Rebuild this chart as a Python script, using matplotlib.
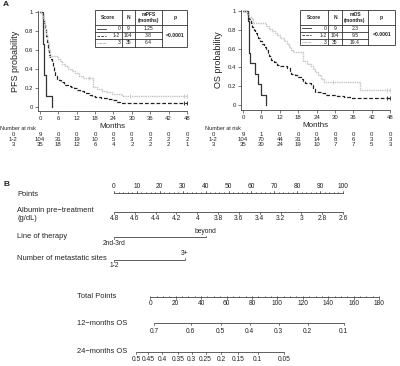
import numpy as np
import matplotlib.pyplot as plt
from matplotlib import transforms
from matplotlib.patches import Rectangle

plt.rcParams['font.family'] = ['Liberation Sans', 'DejaVu Sans']

# ---------------- data ----------------
months = [0, 6, 12, 18, 24, 30, 36, 42, 48]
groups = ['0', '1-2', '3']
n_pat = [9, 104, 35]
median_pfs = ['1.25', '3.8', '6.4']
median_os = ['2.3', '9.5', '19.4']
p_value = '<0.0001'

# PFS curves (time in months, survival)
pfs0_t = [0, 0.9, 1.0, 1.1, 1.15, 1.25, 1.3, 1.9, 2.0, 3.9]
pfs0_s = [1, 0.889, 0.778, 0.667, 0.556, 0.444, 0.333, 0.222, 0.111, 0]
pfs12_t = [0, 0.8, 1.1, 1.4, 1.7, 2.0, 2.3, 2.6, 3.0, 3.4, 3.8, 4.2, 4.6, 5.0, 5.6, 6.2,
           7.0, 8.0, 9.0, 10.0, 11.0, 12.0, 13.0, 14.5, 16.0, 17.0, 18.0, 20.0, 22.0,
           23.5, 25.0, 26.0, 48]
pfs12_s = [1, 0.97, 0.93, 0.88, 0.82, 0.75, 0.68, 0.6, 0.55, 0.51, 0.47, 0.42, 0.37, 0.33,
           0.30, 0.28, 0.26, 0.235, 0.22, 0.21, 0.195, 0.18, 0.165, 0.15, 0.13, 0.115,
           0.105, 0.095, 0.08, 0.07, 0.055, 0.042, 0.042]
pfs3_t = [0, 0.7, 1.0, 1.3, 1.6, 1.9, 2.2, 2.6, 3.0, 3.4, 5.8, 6.4, 7.2, 8.2, 9.3, 10.4,
          11.5, 12.6, 14.0, 17.4, 18.5, 20.1, 21.5, 23.4, 26.7, 48]
pfs3_s = [1, 0.97, 0.94, 0.89, 0.83, 0.77, 0.71, 0.66, 0.6, 0.54, 0.51, 0.48, 0.455, 0.43,
          0.405, 0.38, 0.355, 0.33, 0.305, 0.21, 0.185, 0.17, 0.155, 0.14, 0.115, 0.115]

# OS curves
os0_t = [0, 1.6, 1.8, 2.0, 2.1, 2.3, 3.8, 4.9, 6.0, 7.6]
os0_s = [1, 0.889, 0.778, 0.667, 0.556, 0.444, 0.333, 0.222, 0.111, 0]
os12_t = [0, 1.2, 1.6, 2.0, 2.5, 3.0, 3.5, 4.0, 4.5, 5.0, 5.6, 6.2, 6.8, 7.4, 8.0, 8.6,
          9.2, 10.0, 11.0, 12.0, 13.0, 14.5, 15.2, 15.8, 16.8, 17.8, 18.8, 19.5, 20.3,
          22.0, 22.7, 23.3, 25.5, 26.6, 30.5, 33.0, 35.3, 48]
os12_s = [1, 0.98, 0.95, 0.91, 0.87, 0.83, 0.80, 0.77, 0.74, 0.71, 0.68, 0.65, 0.62, 0.59,
          0.55, 0.52, 0.48, 0.455, 0.43, 0.42, 0.41, 0.39, 0.36, 0.335, 0.32, 0.30, 0.28,
          0.255, 0.23, 0.21, 0.17, 0.14, 0.125, 0.105, 0.095, 0.085, 0.075, 0.075]
os3_t = [0, 1.2, 2.0, 2.8, 3.2, 7.5, 8.6, 9.5, 10.4, 11.2, 12.0, 13.2, 14.2, 15.0, 15.8,
         16.4, 19.4, 21.0, 22.0, 22.8, 23.6, 24.5, 25.5, 26.4, 38.0, 48]
os3_s = [1, 0.97, 0.94, 0.91, 0.87, 0.84, 0.81, 0.79, 0.77, 0.74, 0.71, 0.68, 0.65, 0.62,
         0.59, 0.56, 0.47, 0.44, 0.41, 0.38, 0.35, 0.32, 0.28, 0.24, 0.155, 0.155]

# censoring marks (months)
pfs_cens = [[], [47, 48], [16.0, 29.5, 47, 48]]
os_cens = [[], [47, 48], [29.3, 47, 48]]

risk_pfs = [[9, 0, 0, 0, 0, 0, 0, 0, 0],
            [104, 31, 19, 10, 5, 3, 2, 2, 2],
            [35, 18, 12, 6, 4, 2, 2, 2, 1]]
risk_os = [[9, 1, 0, 0, 0, 0, 0, 0, 0],
           [104, 70, 44, 31, 14, 8, 6, 3, 3],
           [35, 30, 24, 19, 10, 7, 7, 5, 3]]

# nomogram
points_ticks = list(range(0, 101, 10))
albumin_vals = [4.8, 4.6, 4.4, 4.2, 4.0, 3.8, 3.6, 3.4, 3.2, 3.0, 2.8, 2.6]
albumin_labels = ['4.8', '4.6', '4.4', '4.2', '4', '3.8', '3.6', '3.4', '3.2', '3', '2.8', '2.6']
therapy_labels = ['2nd-3rd', 'beyond']
therapy_points = [0, 40]
mets_labels = ['1-2', '3+']
mets_points = [0, 31]
total_ticks = list(range(0, 181, 20))
os12m_labels = ['0.7', '0.6', '0.5', '0.4', '0.3', '0.2', '0.1']
os12m_total = [3.1, 31.9, 55.4, 78.1, 100.9, 123.8, 152.0]
os24m_labels = ['0.5', '0.45', '0.4', '0.35', '0.3', '0.25', '0.2', '0.15', '0.1', '0.05']
os24m_total = [-10.8, -1.8, 9.6, 21.7, 32.7, 43.6, 55.6, 69.1, 84.4, 105.5]

# ---------------- figure ----------------
W, H = 400, 366
fig = plt.figure(figsize=(4, 3.66), dpi=100)
txt = '#222222'
axc = '#444444'


def box(l, t, r, b):
    return [l / W, 1 - b / H, (r - l) / W, (b - t) / H]


ov = fig.add_axes([0, 0, 1, 1], zorder=3)
ov.set_xlim(0, W)
ov.set_ylim(H, 0)
ov.axis('off')
ov.patch.set_visible(False)

styles = [dict(color='#333333', lw=0.9, ls='-'),
          dict(color='#222222', lw=0.9, ls=(0, (3, 1.6))),
          dict(color='#c4c4c4', lw=1.0, ls=(0, (1, 0.6)))]


def km_panel(rect, ylim, curves, cens, ylabel, risk, tbl_cols, tbl_rows, medians,
             med_title, lab_x, risk_x):
    ax = fig.add_axes(rect)
    ax.set_xlim(-0.75, 48)
    ax.set_ylim(*ylim)
    for (t, s), st, ct in zip(curves, styles, cens):
        ax.step(t, s, where='post', clip_on=False, **st)
        if ct:
            yc = [s[np.searchsorted(t, c, side='right') - 1] for c in ct]
            ax.plot(ct, yc, ls='none', marker='|', ms=2.5, mew=0.6,
                    color=st['color'], clip_on=False)
    for side in ['top', 'right']:
        ax.spines[side].set_visible(False)
    for side in ['left', 'bottom']:
        ax.spines[side].set_color(axc)
        ax.spines[side].set_linewidth(0.6)
    ax.set_xticks(months)
    ax.set_yticks([0, 0.2, 0.4, 0.6, 0.8, 1])
    ax.set_yticklabels(['0', '0.2', '0.4', '0.6', '0.8', '1'])
    ax.tick_params(length=2, width=0.5, color=axc, labelsize=4.3, labelcolor=txt, pad=1.5)
    ax.set_xlabel('Months', fontsize=5.8, color=txt, labelpad=1.5)
    ax.set_ylabel(ylabel, fontsize=6.5, color=txt, labelpad=3)

    # number at risk
    tr = transforms.blended_transform_factory(ax.transData, ov.transData)
    ov.text(risk_x, 129, 'Number at risk', fontsize=4, color=txt, ha='left', va='center')
    for i, (g, row) in enumerate(zip(groups, risk)):
        y = 134.5 + 5 * i
        ov.text(lab_x, y, g, fontsize=4.3, color=txt, ha='center', va='center')
        for m, v in zip(months, row):
            ov.text(m, y, str(v), transform=tr, fontsize=4.3, color=txt,
                    ha='center', va='center')

    # median table
    l, r = tbl_cols[0], tbl_cols[-1]
    t, b = tbl_rows[0], tbl_rows[-1]
    ov.add_patch(Rectangle((l, t), r - l, b - t, fc='white', ec='#333333', lw=0.6))
    for c in tbl_cols[1:-1]:
        ov.plot([c, c], [t, b], color='#333333', lw=0.6)
    ov.plot([l, r], [tbl_rows[1]] * 2, color='#333333', lw=0.6)
    for rr in tbl_rows[2:4]:
        ov.plot([l, tbl_cols[3]], [rr, rr], color='#333333', lw=0.6)
    hy = (tbl_rows[0] + tbl_rows[1]) / 2
    heads = ['Score', 'N', med_title, 'p']
    for j, h in enumerate(heads):
        ov.text((tbl_cols[j] + tbl_cols[j + 1]) / 2, hy, h, fontsize=3.6, color=txt,
                ha='center', va='center', fontweight='bold', linespacing=1.1)
    for i in range(3):
        y = (tbl_rows[i + 1] + tbl_rows[i + 2]) / 2
        ov.plot([l + 2, l + 11], [y, y], color=styles[i]['color'] if i < 2 else '#888888',
                lw=0.6, ls=styles[i]['ls'] if i < 2 else (0, (0.8, 0.8)))
        ov.text(tbl_cols[1] - 1.5, y, groups[i], fontsize=3.6, color=txt, ha='right', va='center')
        ov.text((tbl_cols[1] + tbl_cols[2]) / 2, y, str(n_pat[i]), fontsize=3.6, color=txt,
                ha='center', va='center')
        ov.text((tbl_cols[2] + tbl_cols[3]) / 2, y, medians[i], fontsize=3.6, color=txt,
                ha='center', va='center')
    ov.text((tbl_cols[3] + tbl_cols[4]) / 2, (tbl_rows[1] + tbl_rows[4]) / 2, p_value,
            fontsize=3.6, color=txt, ha='center', va='center', fontweight='bold')
    return ax


km_panel(box(37.7, 11, 187, 111), (-0.042, 1.0105),
         [(pfs0_t, pfs0_s), (pfs12_t, pfs12_s), (pfs3_t, pfs3_s)], pfs_cens,
         'PFS probability', risk_pfs,
         [95, 121.7, 135, 162.3, 187.3], [10, 25, 32.3, 39.3, 46.7],
         median_pfs, 'mPFS\n(months)', 13, 0)
km_panel(box(240.7, 10, 390.3, 110), (-0.053, 1.0106),
         [(os0_t, os0_s), (os12_t, os12_s), (os3_t, os3_s)], os_cens,
         'OS probability', risk_os,
         [300, 328.3, 341.7, 368.3, 395], [10.3, 24.7, 32, 38.7, 45.3],
         median_os, 'mOS\n(months)', 213, 205)

ov.text(3, 5, 'A', fontsize=6, fontweight='bold', color=txt, ha='left', va='center')
ov.text(4, 184, 'B', fontsize=6, fontweight='bold', color=txt, ha='left', va='center')

# ---------------- nomogram ----------------
k = 100 / (343 - 114)
nax = fig.add_axes([0, 0, 1, 1], zorder=2)
nax.set_xlim(-114 * k, (W - 114) * k)
nax.set_ylim(H, 0)
nax.axis('off')
nax.patch.set_visible(False)
tot_off, tot_scale = 15.8, 100 / 180


def nomo_axis(xs, labels, y, sides, gap=1.0, tick=1.8, minor=None, fs=4.8):
    nax.plot([min(xs), max(xs)], [y, y], color=axc, lw=0.6, solid_capstyle='butt')
    if minor is not None:
        for x in minor:
            nax.plot([x, x], [y, y - 1.0], color=axc, lw=0.4)
    for x, lab, sd in zip(xs, labels, sides):
        sg = -1 if sd == 'above' else 1
        nax.plot([x, x], [y, y + sg * tick], color=axc, lw=0.5)
        nax.text(x, y + sg * (tick + gap), lab, fontsize=fs, color=txt, ha='center',
                 va='bottom' if sd == 'above' else 'top')


nomo_axis(points_ticks, [str(p) for p in points_ticks], 193, ['above'] * 11,
          minor=np.arange(0, 101, 2))
alb_pts = np.interp(albumin_vals, [albumin_vals[-1], albumin_vals[0]], [100, 0])
nomo_axis(alb_pts, albumin_labels, 212.3, ['below'] * 12)
nomo_axis(therapy_points, therapy_labels, 237.3, ['below', 'above'], gap=0.6)
nomo_axis(mets_points, mets_labels, 259.7, ['below', 'above'], gap=0.6)
tot_x = [tot_off + v * tot_scale for v in total_ticks]
nomo_axis(tot_x, [str(v) for v in total_ticks], 297, ['below'] * 10,
          minor=[tot_off + v * tot_scale for v in range(0, 181, 5)])
nomo_axis([tot_off + v * tot_scale for v in os12m_total], os12m_labels, 323.3,
          ['below'] * 7, gap=2.8)
nomo_axis([tot_off + v * tot_scale for v in os24m_total], os24m_labels, 351.7,
          ['below'] * 10, gap=2.2)

var_labels = [(17, 194, 'Points'), (17, 211, 'Albumin pre\u2212treatment'),
              (17, 218.5, '(g/dL)'), (17, 236.7, 'Line of therapy'),
              (17, 259, 'Number of metastatic sites'), (77, 296.7, 'Total Points'),
              (77, 323.3, '12\u2212months OS'), (77, 351.7, '24\u2212months OS')]
for x, y, s in var_labels:
    ov.text(x, y, s, fontsize=5.4, color=txt, ha='left', va='center')

fig.savefig('out.png', dpi=100)
